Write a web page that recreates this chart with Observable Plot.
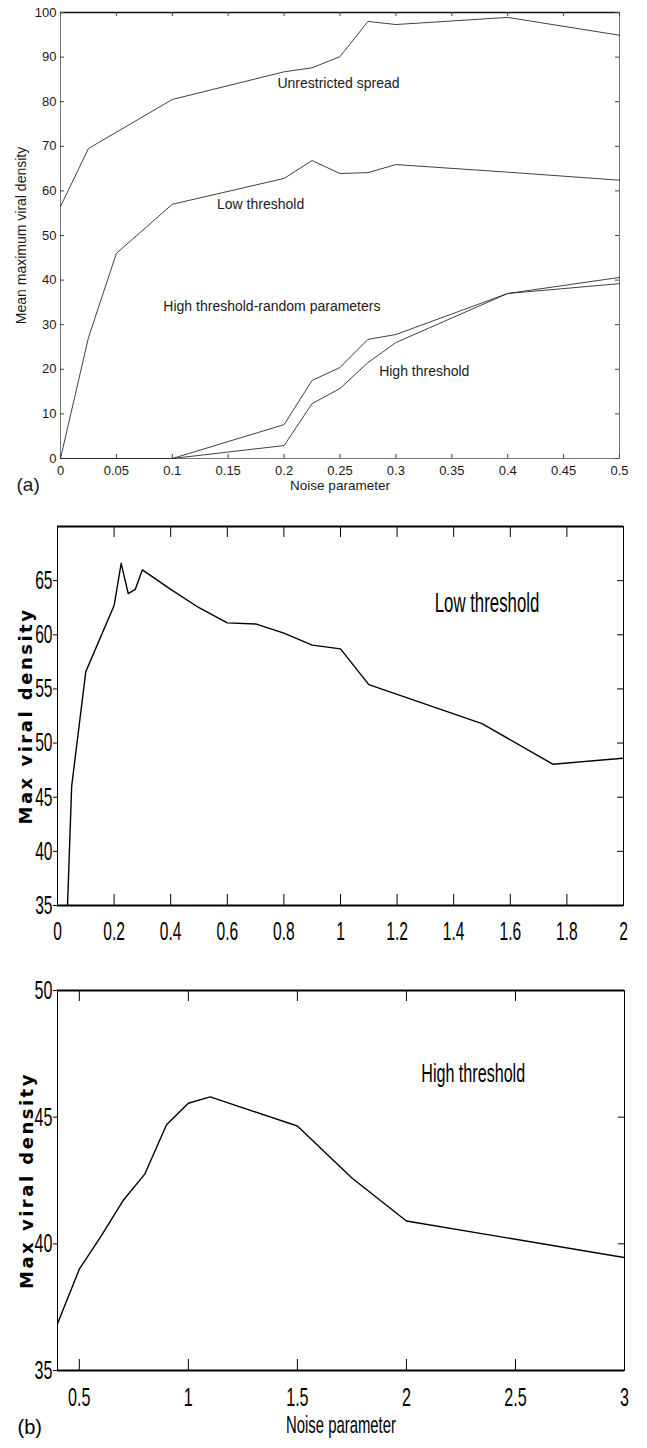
<!DOCTYPE html>
<html><head><meta charset="utf-8">
<script src="https://cdn.jsdelivr.net/npm/d3@7"></script>
<script src="https://cdn.jsdelivr.net/npm/@observablehq/plot@0.6"></script>
<style>body{margin:0;background:#fff} svg{display:block}</style>
</head><body><div id="chart"></div>
<script>
// ---------- Panel (a) data ----------
const aXTicks = [0, 0.05, 0.1, 0.15, 0.2, 0.25, 0.3, 0.35, 0.4, 0.45, 0.5];
const aYTicks = [0, 10, 20, 30, 40, 50, 60, 70, 80, 90, 100];
const unrestrictedX = [0, 0.025, 0.1, 0.2, 0.225, 0.25, 0.275, 0.3, 0.4, 0.5];
const unrestrictedY = [56.5, 69.5, 80.5, 86.7, 87.6, 90.1, 98, 97.3, 98.9, 94.9];
const lowX = [0, 0.025, 0.05, 0.1, 0.2, 0.225, 0.25, 0.275, 0.3, 0.4, 0.5];
const lowY = [0, 27.1, 46, 57, 62.8, 66.8, 63.9, 64.1, 65.9, 64.2, 62.4];
const randomX = [0, 0.1, 0.2, 0.225, 0.25, 0.275, 0.3, 0.4, 0.5];
const randomY = [0, 0, 7.6, 17.5, 20.4, 26.7, 27.8, 37, 40.6];
const highX = [0, 0.1, 0.2, 0.225, 0.25, 0.275, 0.3, 0.4, 0.5];
const highY = [0, 0, 2.9, 12.3, 15.7, 21.5, 26, 37, 39.2];
const aLabels = ["Unrestricted spread", "Low threshold", "High threshold-random parameters", "High threshold"];
const aLabelX = [0.194, 0.140, 0.092, 0.285];
const aLabelY = [84.1, 57.0, 34.1, 19.4];

// ---------- Panel (b) top: low threshold ----------
const bXTicks = [0, 0.2, 0.4, 0.6, 0.8, 1, 1.2, 1.4, 1.6, 1.8, 2];
const bYTicks = [35, 40, 45, 50, 55, 60, 65];
const bLowX = [0, 0.025, 0.05, 0.1, 0.2, 0.225, 0.25, 0.275, 0.3, 0.4, 0.5, 0.6, 0.7, 0.8, 0.9, 1, 1.1, 1.5, 1.75, 2];
const bLowY = [0, 27.1, 46, 56.6, 62.7, 66.6, 63.8, 64.2, 66, 64.2, 62.5, 61.1, 61.0, 60.15, 59.05, 58.7, 55.4, 51.8, 48.05, 48.6];

// ---------- Panel (b) bottom: high threshold ----------
const cXTicks = [0.5, 1, 1.5, 2, 2.5, 3];
const cYTicks = [35, 40, 45, 50];
const cHighX = [0.4, 0.5, 0.6, 0.7, 0.8, 0.9, 1.0, 1.1, 1.5, 1.75, 2, 3];
const cHighY = [36.85, 39.0, 40.3, 41.7, 42.75, 44.7, 45.55, 45.8, 44.65, 42.6, 40.9, 39.46];

const W = 647;
const pts = (xs, ys) => xs.map((x, i) => ({x, y: ys[i]}));
const fmt = d => String(d);
const FONT = "'Liberation Sans', Arial, Helvetica, sans-serif";
const YLAB = "Max viral density";

// ---------- Panel (a) ----------
{
  const H = 500, mt = 12, mb = 42, ml = 60, mr = 28;
  const fw = W - ml - mr, fh = H - mt - mb;
  const lineOpts = {x: "x", y: "y", stroke: "#2a2a2a", strokeWidth: 0.9};
  const ann = aLabels.map((t, i) => ({t, x: aLabelX[i], y: aLabelY[i]}));
  const p = Plot.plot({
    width: W, height: H, marginTop: mt, marginBottom: mb, marginLeft: ml, marginRight: mr,
    style: {fontFamily: FONT, fontSize: "13px", background: "#fff", color: "#1a1a1a"},
    x: {domain: [0, 0.5], label: null},
    y: {domain: [0, 100], label: null},
    marks: [
      Plot.frame({stroke: "#555", strokeWidth: 0.8}),
      Plot.ruleY([aYTicks[aYTicks.length - 1]], {stroke: "#111", strokeWidth: 1.5}),
      Plot.axisX(aXTicks, {tickSize: 0, tickPadding: 7, tickFormat: fmt, fontSize: 13}),
      Plot.axisY(aYTicks, {tickSize: 0, tickPadding: 4, tickFormat: fmt, fontSize: 13}),
      Plot.tickX(aXTicks, {x: d => d, insetTop: fh - 4, stroke: "#444"}),
      Plot.tickX(aXTicks, {x: d => d, insetBottom: fh - 4, stroke: "#444"}),
      Plot.tickY(aYTicks, {y: d => d, insetRight: fw - 4, stroke: "#444"}),
      Plot.tickY(aYTicks, {y: d => d, insetLeft: fw - 4, stroke: "#444"}),
      Plot.line(pts(unrestrictedX, unrestrictedY), lineOpts),
      Plot.line(pts(lowX, lowY), lineOpts),
      Plot.line(pts(randomX, randomY), lineOpts),
      Plot.line(pts(highX, highY), lineOpts),
      Plot.text(ann, {x: "x", y: "y", text: "t", textAnchor: "start", fontSize: 14, fill: "#1a1a1a"}),
      Plot.text(["Mean maximum viral density"], {text: d => d, frameAnchor: "left", dx: -39, rotate: -90, textAnchor: "middle", fontSize: 14}),
      Plot.text(["Noise parameter"], {text: d => d, frameAnchor: "bottom", dy: 31, fontSize: 13.5}),
      Plot.text(["(a)"], {text: d => d, frameAnchor: "bottom-left", dx: -44, dy: 32, textAnchor: "start", fontSize: 19})
    ]
  });
  document.getElementById("chart").appendChild(p);
}

function condense(svg, keep, s) {
  svg.querySelectorAll("text").forEach(t => {
    if (t.textContent === YLAB) { t.style.letterSpacing = "2.5px"; return; }
    if (keep.includes(t.textContent)) return;
    const tr = t.getAttribute("transform") || "";
    t.setAttribute("transform", tr + ` scale(${s},1)`);
  });
}

// ---------- Panel (b) top ----------
{
  const H = 460, mt = 26, mb = 55, ml = 57, mr = 24;
  const fw = W - ml - mr, fh = H - mt - mb;
  const p = Plot.plot({
    width: W, height: H, marginTop: mt, marginBottom: mb, marginLeft: ml, marginRight: mr,
    style: {fontFamily: FONT, fontSize: "26px", background: "#fff", color: "#000"},
    x: {domain: [0, 2], label: null},
    y: {domain: [35, 70], label: null},
    marks: [
      Plot.frame({stroke: "#000", strokeWidth: 1}),
      Plot.ruleY([35, 70], {stroke: "#000", strokeWidth: 2}),
      Plot.axisX(bXTicks, {tickSize: 0, tickPadding: 16, tickFormat: fmt, fontSize: 26}),
      Plot.axisY(bYTicks, {tickSize: 4, tickPadding: 1, tickFormat: fmt, fontSize: 26}),
      Plot.tickX(bXTicks, {x: d => d, insetTop: fh - 11, stroke: "#000"}),
      Plot.tickX(bXTicks, {x: d => d, insetBottom: fh - 11, stroke: "#000"}),
      Plot.tickY(bYTicks, {y: d => d, insetLeft: fw - 6, stroke: "#000"}),
      Plot.line(pts(bLowX, bLowY), {x: "x", y: "y", stroke: "#000", strokeWidth: 1.4, clip: true}),
      Plot.text(["Low threshold"], {text: d => d, x: [1.333], y: [62.96], textAnchor: "start", fontSize: 28}),
      Plot.text([YLAB], {text: d => d, frameAnchor: "left", dx: -31, rotate: -90, textAnchor: "middle", fontSize: 18, fontWeight: "bold", fontFamily: "'DejaVu Sans', sans-serif"})
    ]
  });
  condense(p, [], 0.6);
  document.getElementById("chart").appendChild(p);
}

// ---------- Panel (b) bottom ----------
{
  const H = 488, mt = 30, mb = 78, ml = 57, mr = 23;
  const fw = W - ml - mr, fh = H - mt - mb;
  const p = Plot.plot({
    width: W, height: H, marginTop: mt, marginBottom: mb, marginLeft: ml, marginRight: mr,
    style: {fontFamily: FONT, fontSize: "26px", background: "#fff", color: "#000"},
    x: {domain: [0.4, 3], label: null},
    y: {domain: [35, 50], label: null},
    marks: [
      Plot.frame({stroke: "#000", strokeWidth: 1}),
      Plot.ruleY([35, 50], {stroke: "#000", strokeWidth: 2}),
      Plot.axisX(cXTicks, {tickSize: 0, tickPadding: 17, tickFormat: fmt, fontSize: 26}),
      Plot.axisY(cYTicks, {tickSize: 4, tickPadding: 1, tickFormat: fmt, fontSize: 26}),
      Plot.tickX(cXTicks, {x: d => d, insetTop: fh - 11, stroke: "#000"}),
      Plot.tickX(cXTicks, {x: d => d, insetBottom: fh - 11, stroke: "#000"}),
      Plot.tickY(cYTicks, {y: d => d, insetLeft: fw - 6, stroke: "#000"}),
      Plot.line(pts(cHighX, cHighY), {x: "x", y: "y", stroke: "#000", strokeWidth: 1.4, clip: true}),
      Plot.text(["High threshold"], {text: d => d, x: [2.068], y: [46.7], textAnchor: "start", fontSize: 26}),
      Plot.text([YLAB], {text: d => d, frameAnchor: "left", dx: -30, rotate: -90, textAnchor: "middle", fontSize: 18, fontWeight: "bold", fontFamily: "'DejaVu Sans', sans-serif"}),
      Plot.text(["Noise parameter"], {text: d => d, frameAnchor: "bottom", dy: 62, fontSize: 24}),
      Plot.text(["(b)"], {text: d => d, frameAnchor: "bottom-left", dx: -40, dy: 63, textAnchor: "start", fontSize: 20})
    ]
  });
  condense(p, ["(b)"], 0.62);
  document.getElementById("chart").appendChild(p);
}
</script>
</body></html>
